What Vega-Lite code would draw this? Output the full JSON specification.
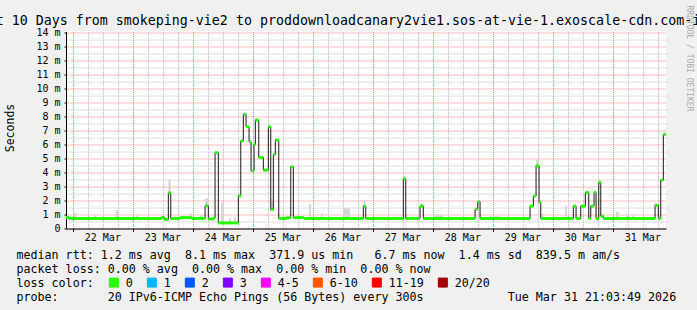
{
  "$schema": "https://vega.github.io/schema/vega-lite/v6.json",
  "width": 600,
  "height": 197,
  "autosize": {"type": "none"},
  "padding": {"left": 66, "top": 31.5, "right": 31, "bottom": 81.5},
  "background": "#f0f0f0",
  "config": {"view": {"fill": "white", "stroke": null}, "font": "DejaVu Sans Mono"},
  "title": {
    "text": "Last 10 Days from smokeping-vie2 to proddownloadcanary2vie1.sos-at-vie-1.exoscale-cdn.com-ipv6",
    "anchor": "start",
    "frame": "group",
    "dx": -94.3,
    "offset": -33,
    "baseline": "alphabetic",
    "font": "DejaVu Sans Mono",
    "fontSize": 13.3,
    "fontWeight": "normal",
    "color": "black"
  },
  "datasets": {
    "median": [
      {"t": "2026-03-21T21:04", "t2": "2026-03-21T22:15", "rtt": 0.00079, "loss": "0"},
      {"t": "2026-03-21T22:15", "t2": "2026-03-23T11:05", "rtt": 0.00072, "loss": "0"},
      {"t": "2026-03-23T11:05", "t2": "2026-03-23T12:24", "rtt": 0.00078, "loss": "0"},
      {"t": "2026-03-23T12:24", "t2": "2026-03-23T14:00", "rtt": 0.00065, "loss": "0"},
      {"t": "2026-03-23T14:00", "t2": "2026-03-23T14:58", "rtt": 0.00255, "loss": "0"},
      {"t": "2026-03-23T14:58", "t2": "2026-03-23T18:41", "rtt": 0.00072, "loss": "0"},
      {"t": "2026-03-23T18:41", "t2": "2026-03-23T23:22", "rtt": 0.00078, "loss": "0"},
      {"t": "2026-03-23T23:22", "t2": "2026-03-24T04:41", "rtt": 0.00072, "loss": "0"},
      {"t": "2026-03-24T04:41", "t2": "2026-03-24T06:00", "rtt": 0.00162, "loss": "0"},
      {"t": "2026-03-24T06:00", "t2": "2026-03-24T08:00", "rtt": 0.00068, "loss": "0"},
      {"t": "2026-03-24T08:00", "t2": "2026-03-24T08:41", "rtt": 0.00075, "loss": "0"},
      {"t": "2026-03-24T08:41", "t2": "2026-03-24T10:00", "rtt": 0.00542, "loss": "0"},
      {"t": "2026-03-24T10:00", "t2": "2026-03-24T18:00", "rtt": 0.0004, "loss": "0"},
      {"t": "2026-03-24T18:00", "t2": "2026-03-24T18:58", "rtt": 0.00234, "loss": "0"},
      {"t": "2026-03-24T18:58", "t2": "2026-03-24T20:00", "rtt": 0.00626, "loss": "0"},
      {"t": "2026-03-24T20:00", "t2": "2026-03-24T21:05", "rtt": 0.00817, "loss": "0"},
      {"t": "2026-03-24T21:05", "t2": "2026-03-24T22:17", "rtt": 0.00728, "loss": "0"},
      {"t": "2026-03-24T22:17", "t2": "2026-03-24T23:05", "rtt": 0.00621, "loss": "0"},
      {"t": "2026-03-24T23:05", "t2": "2026-03-25T00:17", "rtt": 0.00413, "loss": "0"},
      {"t": "2026-03-25T00:17", "t2": "2026-03-25T00:48", "rtt": 0.00602, "loss": "0"},
      {"t": "2026-03-25T00:48", "t2": "2026-03-25T02:10", "rtt": 0.00776, "loss": "0"},
      {"t": "2026-03-25T02:10", "t2": "2026-03-25T04:00", "rtt": 0.00509, "loss": "0"},
      {"t": "2026-03-25T04:00", "t2": "2026-03-25T06:00", "rtt": 0.00418, "loss": "0"},
      {"t": "2026-03-25T06:00", "t2": "2026-03-25T06:58", "rtt": 0.00728, "loss": "0"},
      {"t": "2026-03-25T06:58", "t2": "2026-03-25T08:00", "rtt": 0.00136, "loss": "0"},
      {"t": "2026-03-25T08:00", "t2": "2026-03-25T08:48", "rtt": 0.0053, "loss": "0"},
      {"t": "2026-03-25T08:48", "t2": "2026-03-25T10:10", "rtt": 0.00633, "loss": "0"},
      {"t": "2026-03-25T10:10", "t2": "2026-03-25T13:05", "rtt": 0.00072, "loss": "0"},
      {"t": "2026-03-25T13:05", "t2": "2026-03-25T14:58", "rtt": 0.00076, "loss": "0"},
      {"t": "2026-03-25T14:58", "t2": "2026-03-25T16:00", "rtt": 0.00442, "loss": "0"},
      {"t": "2026-03-25T16:00", "t2": "2026-03-25T20:17", "rtt": 0.00078, "loss": "0"},
      {"t": "2026-03-25T20:17", "t2": "2026-03-26T20:00", "rtt": 0.00072, "loss": "0"},
      {"t": "2026-03-26T20:00", "t2": "2026-03-26T20:58", "rtt": 0.0016, "loss": "0"},
      {"t": "2026-03-26T20:58", "t2": "2026-03-27T12:00", "rtt": 0.00072, "loss": "0"},
      {"t": "2026-03-27T12:00", "t2": "2026-03-27T12:58", "rtt": 0.00356, "loss": "0"},
      {"t": "2026-03-27T12:58", "t2": "2026-03-27T18:41", "rtt": 0.00072, "loss": "0"},
      {"t": "2026-03-27T18:41", "t2": "2026-03-27T20:00", "rtt": 0.0016, "loss": "0"},
      {"t": "2026-03-27T20:00", "t2": "2026-03-28T16:41", "rtt": 0.00072, "loss": "0"},
      {"t": "2026-03-28T16:41", "t2": "2026-03-28T17:46", "rtt": 0.00138, "loss": "0"},
      {"t": "2026-03-28T17:46", "t2": "2026-03-28T18:41", "rtt": 0.00191, "loss": "0"},
      {"t": "2026-03-28T18:41", "t2": "2026-03-29T14:41", "rtt": 0.00072, "loss": "0"},
      {"t": "2026-03-29T14:41", "t2": "2026-03-29T16:00", "rtt": 0.0016, "loss": "0"},
      {"t": "2026-03-29T16:00", "t2": "2026-03-29T17:05", "rtt": 0.00232, "loss": "0"},
      {"t": "2026-03-29T17:05", "t2": "2026-03-29T18:17", "rtt": 0.00449, "loss": "0"},
      {"t": "2026-03-29T18:17", "t2": "2026-03-29T18:58", "rtt": 0.00188, "loss": "0"},
      {"t": "2026-03-29T18:58", "t2": "2026-03-30T08:00", "rtt": 0.00072, "loss": "0"},
      {"t": "2026-03-30T08:00", "t2": "2026-03-30T09:05", "rtt": 0.0016, "loss": "0"},
      {"t": "2026-03-30T09:05", "t2": "2026-03-30T10:58", "rtt": 0.00072, "loss": "0"},
      {"t": "2026-03-30T10:58", "t2": "2026-03-30T12:48", "rtt": 0.0016, "loss": "0"},
      {"t": "2026-03-30T12:48", "t2": "2026-03-30T14:10", "rtt": 0.00258, "loss": "0"},
      {"t": "2026-03-30T14:10", "t2": "2026-03-30T14:58", "rtt": 0.00072, "loss": "0"},
      {"t": "2026-03-30T14:58", "t2": "2026-03-30T16:17", "rtt": 0.0016, "loss": "0"},
      {"t": "2026-03-30T16:17", "t2": "2026-03-30T17:05", "rtt": 0.00258, "loss": "0"},
      {"t": "2026-03-30T17:05", "t2": "2026-03-30T18:10", "rtt": 0.00072, "loss": "0"},
      {"t": "2026-03-30T18:10", "t2": "2026-03-30T18:58", "rtt": 0.0033, "loss": "0"},
      {"t": "2026-03-30T18:58", "t2": "2026-03-30T20:00", "rtt": 0.00088, "loss": "0"},
      {"t": "2026-03-30T20:00", "t2": "2026-03-31T16:41", "rtt": 0.00072, "loss": "0"},
      {"t": "2026-03-31T16:41", "t2": "2026-03-31T18:00", "rtt": 0.00166, "loss": "0"},
      {"t": "2026-03-31T18:00", "t2": "2026-03-31T18:58", "rtt": 0.00072, "loss": "0"},
      {"t": "2026-03-31T18:58", "t2": "2026-03-31T20:00", "rtt": 0.00346, "loss": "0"},
      {"t": "2026-03-31T20:00", "t2": "2026-03-31T21:04", "rtt": 0.00674, "loss": "0"}
    ],
    "smoke": [
      {"t": "2026-03-22T00:17", "t2": "2026-03-22T01:05", "lo": 0.00066, "hi": 0.00112},
      {"t": "2026-03-22T08:17", "t2": "2026-03-22T09:05", "lo": 0.00066, "hi": 0.00095},
      {"t": "2026-03-22T16:53", "t2": "2026-03-22T17:53", "lo": 0.00066, "hi": 0.0013},
      {"t": "2026-03-23T01:05", "t2": "2026-03-23T01:53", "lo": 0.00066, "hi": 0.001},
      {"t": "2026-03-23T05:53", "t2": "2026-03-23T06:41", "lo": 0.00066, "hi": 0.00082},
      {"t": "2026-03-23T11:05", "t2": "2026-03-23T13:05", "lo": 0.00066, "hi": 0.00085},
      {"t": "2026-03-23T14:00", "t2": "2026-03-23T14:58", "lo": 0.0024, "hi": 0.0035},
      {"t": "2026-03-23T22:41", "t2": "2026-03-23T23:29", "lo": 0.00066, "hi": 0.0011},
      {"t": "2026-03-24T02:41", "t2": "2026-03-24T03:53", "lo": 0.00066, "hi": 0.00095},
      {"t": "2026-03-24T04:41", "t2": "2026-03-24T06:00", "lo": 0.0015, "hi": 0.00215},
      {"t": "2026-03-24T11:05", "t2": "2026-03-24T12:17", "lo": 0.0004, "hi": 0.00185},
      {"t": "2026-03-24T14:17", "t2": "2026-03-24T15:05", "lo": 0.0004, "hi": 0.00075},
      {"t": "2026-03-24T16:17", "t2": "2026-03-24T17:05", "lo": 0.0004, "hi": 0.00085},
      {"t": "2026-03-25T06:58", "t2": "2026-03-25T08:00", "lo": 0.0013, "hi": 0.0021},
      {"t": "2026-03-25T22:17", "t2": "2026-03-25T23:05", "lo": 0.00066, "hi": 0.00175},
      {"t": "2026-03-26T03:05", "t2": "2026-03-26T03:53", "lo": 0.00066, "hi": 0.0011},
      {"t": "2026-03-26T12:17", "t2": "2026-03-26T14:41", "lo": 0.00066, "hi": 0.00145},
      {"t": "2026-03-26T20:00", "t2": "2026-03-26T20:58", "lo": 0.0015, "hi": 0.002},
      {"t": "2026-03-27T01:53", "t2": "2026-03-27T03:05", "lo": 0.00066, "hi": 0.00085},
      {"t": "2026-03-27T09:29", "t2": "2026-03-27T10:17", "lo": 0.00066, "hi": 0.00085},
      {"t": "2026-03-27T12:00", "t2": "2026-03-27T12:58", "lo": 0.0034, "hi": 0.00375},
      {"t": "2026-03-27T14:41", "t2": "2026-03-27T16:41", "lo": 0.00066, "hi": 0.00082},
      {"t": "2026-03-27T18:41", "t2": "2026-03-27T20:00", "lo": 0.0015, "hi": 0.0018},
      {"t": "2026-03-27T23:53", "t2": "2026-03-28T03:53", "lo": 0.00066, "hi": 0.00095},
      {"t": "2026-03-28T17:46", "t2": "2026-03-28T18:41", "lo": 0.0018, "hi": 0.00195},
      {"t": "2026-03-28T22:41", "t2": "2026-03-29T02:41", "lo": 0.00066, "hi": 0.00088},
      {"t": "2026-03-29T06:41", "t2": "2026-03-29T11:29", "lo": 0.00066, "hi": 0.00082},
      {"t": "2026-03-29T17:05", "t2": "2026-03-29T18:17", "lo": 0.0043, "hi": 0.0049},
      {"t": "2026-03-29T18:58", "t2": "2026-03-29T19:53", "lo": 0.00066, "hi": 0.00108},
      {"t": "2026-03-30T04:41", "t2": "2026-03-30T05:29", "lo": 0.00066, "hi": 0.0016},
      {"t": "2026-03-30T18:10", "t2": "2026-03-30T18:58", "lo": 0.0032, "hi": 0.0035},
      {"t": "2026-03-31T01:05", "t2": "2026-03-31T02:17", "lo": 0.00066, "hi": 0.0012},
      {"t": "2026-03-31T05:05", "t2": "2026-03-31T05:53", "lo": 0.00066, "hi": 0.001},
      {"t": "2026-03-31T07:29", "t2": "2026-03-31T08:17", "lo": 0.00066, "hi": 0.001}
    ]
  },
  "layer": [
    {
      "data": {"name": "smoke"},
      "mark": {"type": "rect", "color": "#d6d6d6"},
      "encoding": {
        "x": {
          "field": "t", "type": "temporal",
          "scale": {"domain": [{"year": 2026, "month": "mar", "date": 21, "hours": 21, "minutes": 3, "seconds": 49}, {"year": 2026, "month": "mar", "date": 31, "hours": 21, "minutes": 3, "seconds": 49}]},
          "axis": {
            "orient": "bottom",
            "values": [
              {"year": 2026, "month": "mar", "date": 22, "hours": 6}, {"year": 2026, "month": "mar", "date": 22, "hours": 12}, {"year": 2026, "month": "mar", "date": 22, "hours": 18},
              {"year": 2026, "month": "mar", "date": 23, "hours": 6}, {"year": 2026, "month": "mar", "date": 23, "hours": 12}, {"year": 2026, "month": "mar", "date": 23, "hours": 18},
              {"year": 2026, "month": "mar", "date": 24, "hours": 6}, {"year": 2026, "month": "mar", "date": 24, "hours": 12}, {"year": 2026, "month": "mar", "date": 24, "hours": 18},
              {"year": 2026, "month": "mar", "date": 25, "hours": 6}, {"year": 2026, "month": "mar", "date": 25, "hours": 12}, {"year": 2026, "month": "mar", "date": 25, "hours": 18},
              {"year": 2026, "month": "mar", "date": 26, "hours": 6}, {"year": 2026, "month": "mar", "date": 26, "hours": 12}, {"year": 2026, "month": "mar", "date": 26, "hours": 18},
              {"year": 2026, "month": "mar", "date": 27, "hours": 6}, {"year": 2026, "month": "mar", "date": 27, "hours": 12}, {"year": 2026, "month": "mar", "date": 27, "hours": 18},
              {"year": 2026, "month": "mar", "date": 28, "hours": 6}, {"year": 2026, "month": "mar", "date": 28, "hours": 12}, {"year": 2026, "month": "mar", "date": 28, "hours": 18},
              {"year": 2026, "month": "mar", "date": 29, "hours": 6}, {"year": 2026, "month": "mar", "date": 29, "hours": 12}, {"year": 2026, "month": "mar", "date": 29, "hours": 18},
              {"year": 2026, "month": "mar", "date": 30, "hours": 6}, {"year": 2026, "month": "mar", "date": 30, "hours": 12}, {"year": 2026, "month": "mar", "date": 30, "hours": 18},
              {"year": 2026, "month": "mar", "date": 31, "hours": 6}, {"year": 2026, "month": "mar", "date": 31, "hours": 12}, {"year": 2026, "month": "mar", "date": 31, "hours": 18}
            ],
            "labels": false, "ticks": false, "domain": false,
            "grid": true, "gridColor": "#bdbdbd", "gridDash": [1, 1], "gridWidth": 1,
            "title": null
          }
        },
        "x2": {"field": "t2"},
        "y": {
          "field": "lo", "type": "quantitative",
          "scale": {"domain": [0, 0.0141], "nice": false, "zero": true},
          "axis": {
            "orient": "right",
            "values": [0.0005, 0.0015, 0.0025, 0.0035, 0.0045, 0.0055, 0.0065, 0.0075, 0.0085, 0.0095, 0.0105, 0.0115, 0.0125, 0.0135],
            "labels": false, "ticks": false, "domain": false,
            "grid": true, "gridColor": "#bdbdbd", "gridDash": [1, 1], "gridWidth": 1,
            "title": "RRDTOOL / TOBI OETIKER",
            "titleAngle": 90, "titleX": 22, "titleY": -26.5,
            "titleAlign": "left", "titleBaseline": "middle",
            "titleFont": "DejaVu Sans Mono", "titleFontSize": 8, "titleFontWeight": "normal", "titleColor": "#aaaaaa"
          }
        },
        "y2": {"field": "hi"}
      }
    },
    {
      "data": {"name": "median"},
      "mark": {"type": "line", "interpolate": "step-after", "color": "#1a1a1a", "strokeWidth": 1},
      "encoding": {
        "x": {"field": "t", "type": "temporal", "axis": null,
              "scale": {"domain": [{"year": 2026, "month": "mar", "date": 21, "hours": 21, "minutes": 3, "seconds": 49}, {"year": 2026, "month": "mar", "date": 31, "hours": 21, "minutes": 3, "seconds": 49}]}},
        "y": {"field": "rtt", "type": "quantitative", "axis": null,
              "scale": {"domain": [0, 0.0141], "nice": false, "zero": true}}
      }
    },
    {
      "data": {"name": "median"},
      "mark": {"type": "rule", "strokeWidth": 3, "strokeCap": "butt"},
      "encoding": {
        "x": {
          "field": "t", "type": "temporal",
          "scale": {"domain": [{"year": 2026, "month": "mar", "date": 21, "hours": 21, "minutes": 3, "seconds": 49}, {"year": 2026, "month": "mar", "date": 31, "hours": 21, "minutes": 3, "seconds": 49}]},
          "axis": {
            "orient": "bottom",
            "values": [
              {"year": 2026, "month": "mar", "date": 22}, {"year": 2026, "month": "mar", "date": 23}, {"year": 2026, "month": "mar", "date": 24},
              {"year": 2026, "month": "mar", "date": 25}, {"year": 2026, "month": "mar", "date": 26}, {"year": 2026, "month": "mar", "date": 27},
              {"year": 2026, "month": "mar", "date": 28}, {"year": 2026, "month": "mar", "date": 29}, {"year": 2026, "month": "mar", "date": 30},
              {"year": 2026, "month": "mar", "date": 31}
            ],
            "format": "%d %b",
            "labelOffset": 29, "labelFlush": false, "labelOverlap": false, "labelBound": false,
            "labelFont": "DejaVu Sans Mono", "labelFontSize": 10, "labelColor": "black", "labelPadding": 1,
            "ticks": true, "tickSize": 3, "tickColor": "black", "tickWidth": 1,
            "domain": true, "domainColor": "black", "domainWidth": 1,
            "grid": true, "gridColor": "#ff7a7a", "gridDash": [1, 1], "gridWidth": 1,
            "title": [
              "median rtt:  1.2 ms avg \u00a08.1 ms max \u00a0371.9 us min \u00a0\u00a06.7 ms now \u00a01.4 ms sd \u00a0839.5 m am/s",
              "packet loss: 0.00 % avg \u00a00.00 % max \u00a00.00 % min \u00a00.00 % now",
              "loss color:",
              "probe: \u00a0\u00a0\u00a0\u00a0\u00a0\u00a020 IPv6-ICMP Echo Pings (56 Bytes) every 300s \u00a0\u00a0\u00a0\u00a0\u00a0\u00a0\u00a0\u00a0\u00a0\u00a0\u00a0Tue Mar 31 21:03:49 2026"
            ],
            "titleX": -50, "titleY": 29.8,
            "titleAlign": "left", "titleAnchor": "start", "titleBaseline": "alphabetic",
            "titleFont": "DejaVu Sans Mono", "titleFontSize": 11.67, "titleFontWeight": "normal", "titleColor": "black",
            "titleLineHeight": 14
          }
        },
        "x2": {"field": "t2"},
        "y": {
          "field": "rtt", "type": "quantitative",
          "scale": {"domain": [0, 0.0141], "nice": false, "zero": true},
          "axis": {
            "orient": "left",
            "values": [0, 0.001, 0.002, 0.003, 0.004, 0.005, 0.006, 0.007, 0.008, 0.009, 0.01, 0.011, 0.012, 0.013, 0.014],
            "labelExpr": "datum.value == 0 ? '0' : round(datum.value * 1000) + ' m'",
            "labelFont": "DejaVu Sans Mono", "labelFontSize": 10, "labelColor": "black", "labelPadding": 4,
            "ticks": true, "tickSize": 2, "tickColor": "black",
            "domain": true, "domainColor": "black", "domainWidth": 1,
            "grid": true, "gridColor": "#ff7a7a", "gridDash": [1, 1], "gridWidth": 1,
            "title": "Seconds",
            "titleAngle": 270, "titleX": -56, "titleY": 96,
            "titleAlign": "center", "titleBaseline": "middle",
            "titleFont": "DejaVu Sans Mono", "titleFontSize": 11.5, "titleFontWeight": "normal", "titleColor": "black"
          }
        },
        "color": {
          "field": "loss", "type": "nominal",
          "scale": {
            "domain": ["0", "1", "2", "3", "4-5", "6-10", "11-19", "20/20"],
            "range": ["#26ff00", "#00b8ff", "#0059ff", "#7e00ff", "#ff00ff", "#ff5500", "#ff0000", "#a10000"]
          },
          "legend": {
            "title": null,
            "orient": "none", "legendX": 42, "legendY": 245,
            "direction": "horizontal", "columns": 8,
            "labelFont": "DejaVu Sans Mono", "labelFontSize": 11.67, "labelColor": "black", "labelOffset": 6,
            "symbolType": "square", "symbolSize": 81, "symbolStrokeWidth": 1,
            "columnPadding": 12, "padding": 0,
            "encode": {
              "symbols": {
                "update": {
                  "fill": {"scale": "color", "field": "value"},
                  "stroke": {"value": "black"},
                  "strokeWidth": {"value": 1},
                  "opacity": {"value": 1}
                }
              }
            }
          }
        }
      }
    }
  ],
  "resolve": {"axis": {"x": "independent", "y": "independent"}}
}
